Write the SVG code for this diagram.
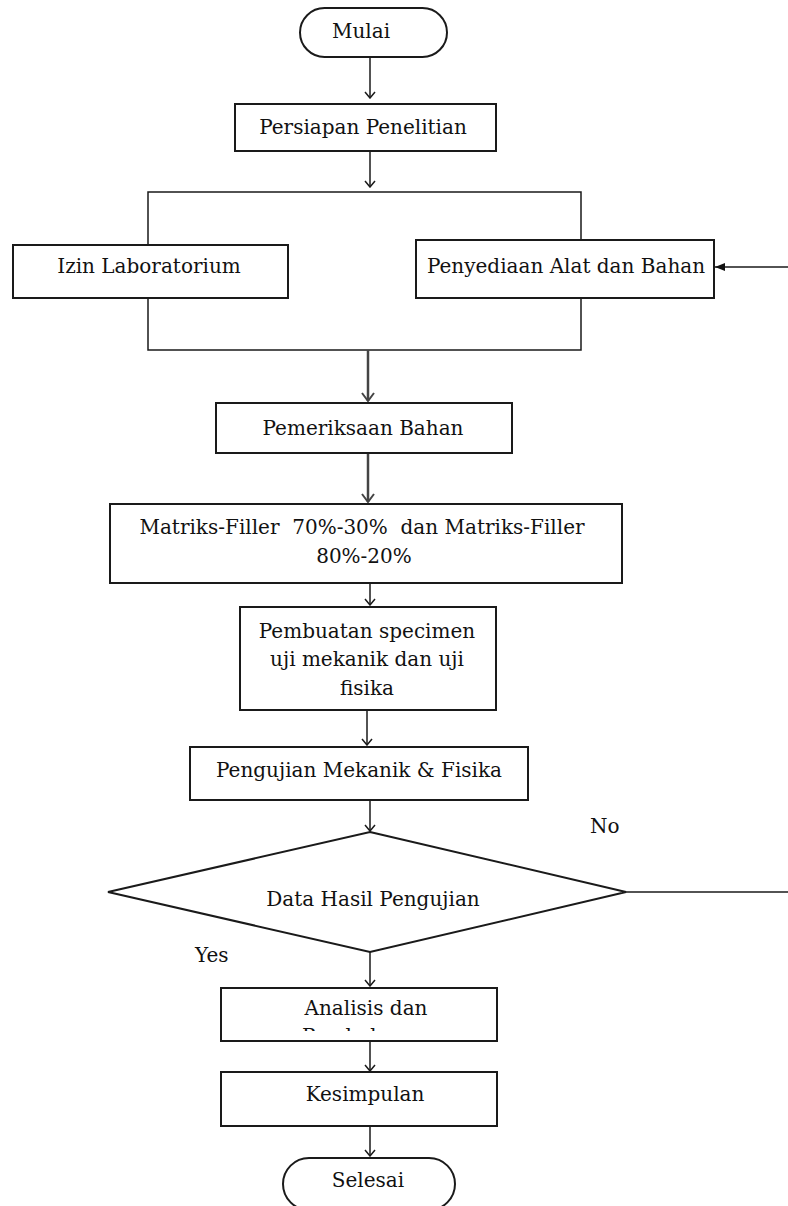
<svg xmlns="http://www.w3.org/2000/svg" width="788" height="1206" viewBox="0 0 788 1206">
<defs>
<style>
.box{fill:#fff;stroke:#1a1a1a;stroke-width:2}
.ln{fill:none;stroke:#1a1a1a;stroke-width:1.5}
.thick{fill:none;stroke:#444;stroke-width:2.5}
.t{font-family:"DejaVu Serif","Liberation Serif",serif;font-size:20px;fill:#111;text-anchor:middle}
.tl{font-family:"DejaVu Serif","Liberation Serif",serif;font-size:20px;fill:#111}
</style>
<marker id="open" viewBox="0 0 12 12" refX="11" refY="6" markerWidth="12" markerHeight="12" markerUnits="userSpaceOnUse" orient="auto">
<path d="M5,1 L11,6 L5,11" fill="none" stroke="#1a1a1a" stroke-width="1.5"/>
</marker>
<marker id="openT" viewBox="0 0 14 14" refX="13" refY="7" markerWidth="14" markerHeight="14" markerUnits="userSpaceOnUse" orient="auto">
<path d="M5,1 L13,7 L5,13" fill="none" stroke="#444" stroke-width="2"/>
</marker>
<marker id="fill" viewBox="0 0 10 10" refX="10" refY="5" markerWidth="10" markerHeight="10" markerUnits="userSpaceOnUse" orient="auto">
<path d="M0,1 L10,5 L0,9 Z" fill="#111"/>
</marker>
<clipPath id="clipAn"><rect x="222" y="988" width="274" height="43"/></clipPath>
</defs>

<g id="connectors">
<line class="ln" x1="370" y1="57" x2="370" y2="98" marker-end="url(#open)"/>
<line class="ln" x1="370" y1="151" x2="370" y2="187" marker-end="url(#open)"/>
<polyline class="ln" points="148,245 148,192 581,192 581,240"/>
<polyline class="ln" points="148,298 148,350 581,350 581,298"/>
<line class="ln" x1="788" y1="267" x2="715" y2="267" marker-end="url(#fill)"/>
<line class="thick" x1="368" y1="350" x2="368" y2="401" marker-end="url(#openT)"/>
<line class="thick" x1="368" y1="453" x2="368" y2="502" marker-end="url(#openT)"/>
<line class="ln" x1="370" y1="583" x2="370" y2="605" marker-end="url(#open)"/>
<line class="ln" x1="367" y1="710" x2="367" y2="745" marker-end="url(#open)"/>
<line class="ln" x1="370" y1="800" x2="370" y2="831" marker-end="url(#open)"/>
<line class="ln" x1="626" y1="892" x2="788" y2="892"/>
<line class="ln" x1="370" y1="952" x2="370" y2="986" marker-end="url(#open)"/>
<line class="ln" x1="370" y1="1041" x2="370" y2="1071" marker-end="url(#open)"/>
<line class="ln" x1="370" y1="1126" x2="370" y2="1156" marker-end="url(#open)"/>
</g>

<g id="mulai">
<rect class="box" x="300" y="8" width="147" height="49" rx="24.5"/>
<text class="t" x="361" y="38">Mulai</text>
</g>
<g id="persiapan">
<rect class="box" x="235" y="104" width="261" height="47"/>
<text class="t" x="363" y="134">Persiapan Penelitian</text>
</g>
<g id="izin">
<rect class="box" x="13" y="245" width="275" height="53"/>
<text class="t" x="149" y="273">Izin Laboratorium</text>
</g>
<g id="penyediaan">
<rect class="box" x="416" y="240" width="298" height="58"/>
<text class="t" x="566" y="273">Penyediaan Alat dan Bahan</text>
</g>
<g id="pemeriksaan">
<rect class="box" x="216" y="403" width="296" height="50"/>
<text class="t" x="363" y="435">Pemeriksaan Bahan</text>
</g>
<g id="matriks">
<rect class="box" x="110" y="504" width="512" height="79"/>
<text class="t" x="362" y="534" xml:space="preserve">Matriks-Filler  70%-30%  dan Matriks-Filler</text>
<text class="t" x="364" y="563">80%-20%</text>
</g>
<g id="pembuatan">
<rect class="box" x="240" y="607" width="256" height="103"/>
<text class="t" x="367" y="638">Pembuatan specimen</text>
<text class="t" x="367" y="666">uji mekanik dan uji</text>
<text class="t" x="367" y="695">fisika</text>
</g>
<g id="pengujian">
<rect class="box" x="190" y="747" width="338" height="53"/>
<text class="t" x="359" y="777">Pengujian Mekanik &amp; Fisika</text>
</g>
<g id="keputusan">
<polygon class="box" points="370,832 626,892 370,952 108,892"/>
<text class="t" x="373" y="906">Data Hasil Pengujian</text>
<text class="tl" x="590" y="833">No</text>
<text class="tl" x="195" y="962">Yes</text>
</g>
<g id="analisis">
<rect class="box" x="221" y="988" width="276" height="53"/>
<text class="t" x="366" y="1015">Analisis dan</text>
<text class="t" x="366" y="1043" clip-path="url(#clipAn)">Pembahasan</text>
</g>
<g id="kesimpulan">
<rect class="box" x="221" y="1072" width="276" height="54"/>
<text class="t" x="365" y="1101">Kesimpulan</text>
</g>
<g id="selesai">
<rect class="box" x="283" y="1158" width="172" height="52" rx="26"/>
<text class="t" x="368" y="1187">Selesai</text>
</g>
</svg>
